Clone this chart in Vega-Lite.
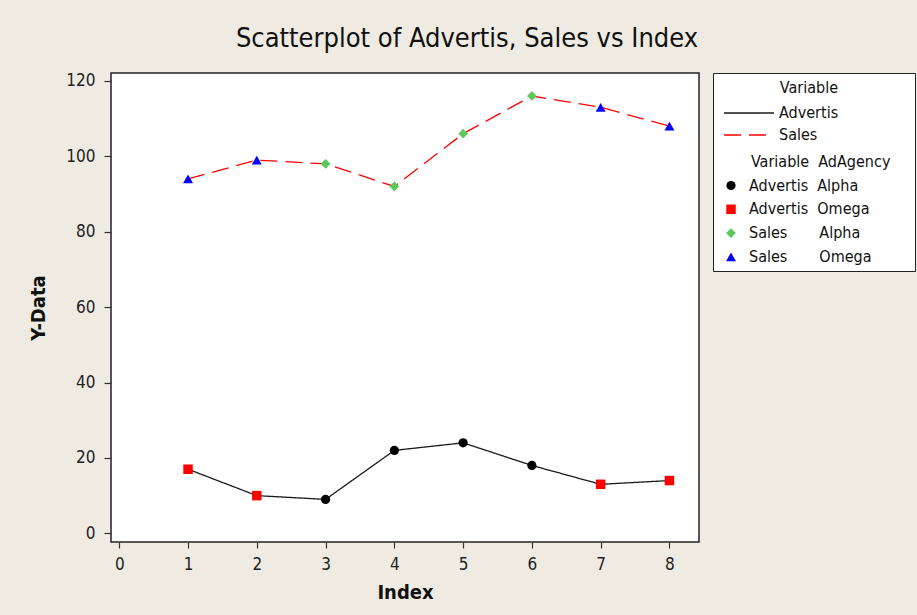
{
  "$schema": "https://vega.github.io/schema/vega-lite/v6.json",
  "width": 588,
  "height": 469,
  "autosize": "none",
  "padding": {"left": 111, "top": 73, "right": 218, "bottom": 73},
  "background": "#EFEBE2",
  "title": {
    "text": "Scatterplot of Advertis, Sales vs Index",
    "font": "DejaVu Sans Condensed, DejaVu Sans",
    "fontSize": 27,
    "fontWeight": "normal",
    "color": "#111111",
    "anchor": "middle",
    "dx": 62,
    "offset": 19
  },
  "config": {
    "view": {"fill": "white", "stroke": "#222222", "strokeWidth": 1.5},
    "axis": {
      "grid": false,
      "domain": false,
      "tickColor": "#333333",
      "tickWidth": 1.2,
      "labelColor": "#222222",
      "labelFont": "DejaVu Sans Condensed, DejaVu Sans",
      "labelFontSize": 17,
      "titleFont": "DejaVu Sans Condensed, DejaVu Sans",
      "titleFontSize": 20,
      "titleFontWeight": "bold",
      "titleColor": "#111111"
    },
    "legend": {
      "labelFont": "DejaVu Sans Condensed, DejaVu Sans",
      "labelFontSize": 16,
      "labelColor": "#111111",
      "titleFont": "DejaVu Sans Condensed, DejaVu Sans",
      "titleFontSize": 16,
      "titleFontWeight": "normal",
      "titleColor": "#111111",
      "titleLimit": 0,
      "labelLimit": 0
    }
  },
  "data": {
    "values": [
      {"Index": 1, "Variable": "Advertis", "AdAgency": "Omega", "Value": 17},
      {"Index": 2, "Variable": "Advertis", "AdAgency": "Omega", "Value": 10},
      {"Index": 3, "Variable": "Advertis", "AdAgency": "Alpha", "Value": 9},
      {"Index": 4, "Variable": "Advertis", "AdAgency": "Alpha", "Value": 22},
      {"Index": 5, "Variable": "Advertis", "AdAgency": "Alpha", "Value": 24},
      {"Index": 6, "Variable": "Advertis", "AdAgency": "Alpha", "Value": 18},
      {"Index": 7, "Variable": "Advertis", "AdAgency": "Omega", "Value": 13},
      {"Index": 8, "Variable": "Advertis", "AdAgency": "Omega", "Value": 14},
      {"Index": 1, "Variable": "Sales", "AdAgency": "Omega", "Value": 94},
      {"Index": 2, "Variable": "Sales", "AdAgency": "Omega", "Value": 99},
      {"Index": 3, "Variable": "Sales", "AdAgency": "Alpha", "Value": 98},
      {"Index": 4, "Variable": "Sales", "AdAgency": "Alpha", "Value": 92},
      {"Index": 5, "Variable": "Sales", "AdAgency": "Alpha", "Value": 106},
      {"Index": 6, "Variable": "Sales", "AdAgency": "Alpha", "Value": 116},
      {"Index": 7, "Variable": "Sales", "AdAgency": "Omega", "Value": 113},
      {"Index": 8, "Variable": "Sales", "AdAgency": "Omega", "Value": 108}
    ]
  },
  "transform": [
    {"calculate": "datum.Variable + ' ' + datum.AdAgency", "as": "Group"}
  ],
  "encoding": {
    "x": {
      "field": "Index",
      "type": "quantitative",
      "scale": {"domain": [-0.12, 8.43], "nice": false, "zero": false},
      "axis": {
        "values": [0, 1, 2, 3, 4, 5, 6, 7, 8],
        "title": "Index",
        "tickSize": 6,
        "labelPadding": 8,
        "titlePadding": 10
      }
    },
    "y": {
      "field": "Value",
      "type": "quantitative",
      "scale": {"domain": [-2.3, 122.1], "nice": false, "zero": false},
      "axis": {
        "values": [0, 20, 40, 60, 80, 100, 120],
        "title": "Y-Data",
        "tickSize": 7,
        "labelPadding": 9,
        "titlePadding": 17
      }
    }
  },
  "layer": [
    {
      "mark": {"type": "line", "strokeWidth": 1.3},
      "encoding": {
        "stroke": {
          "field": "Variable",
          "type": "nominal",
          "scale": {"domain": ["Advertis", "Sales"], "range": ["#1a1a1a", "#FF0000"]},
          "legend": {
            "title": "Variable",
            "orient": "none",
            "legendX": 610,
            "legendY": 7,
            "symbolType": "M-5,0H5",
            "symbolSize": 100,
            "symbolStrokeWidth": 1.3,
            "symbolFillColor": "transparent",
            "symbolOffset": 20,
            "labelOffset": 22,
            "titleAnchor": "end",
            "titleBaseline": "top",
            "titlePadding": 9,
            "padding": 0,
            "rowPadding": 6,
            "zindex": 1
          }
        },
        "strokeDash": {
          "field": "Variable",
          "type": "nominal",
          "scale": {"domain": ["Advertis", "Sales"], "range": [[1, 0], [17, 8]]}
        },
        "order": {"field": "Index"}
      }
    },
    {
      "mark": {"type": "point", "filled": true, "opacity": 1},
      "encoding": {
        "shape": {
          "field": "Group",
          "type": "nominal",
          "scale": {
            "domain": ["Advertis Alpha", "Advertis Omega", "Sales Alpha", "Sales Omega"],
            "range": ["circle", "square", "diamond", "triangle-up"]
          },
          "legend": {
            "title": ["\u200b", "\u200b", "\u200b", "\u200b\u00a0\u00a0\u00a0\u00a0\u00a0\u00a0\u00a0Variable\u00a0\u00a0AdAgency\u00a0\u00a0\u00a0\u00a0\u200b"],
            "titleLineHeight": 25,
            "titleBaseline": "top",
            "orient": "none",
            "legendX": 602,
            "legendY": 0,
            "padding": 6,
            "strokeColor": "#222222",
            "fillColor": "white",
            "symbolOffset": 4,
            "labelOffset": 10,
            "rowPadding": 7.8,
            "titlePadding": 7.5,
            "zindex": 0,
            "labelExpr": "indexof(datum.label, 'Sales') == 0 ? replace(datum.label, ' ', '\u00a0\u00a0\u00a0\u00a0\u00a0\u00a0\u00a0') : replace(datum.label, ' ', '\u00a0\u00a0')"
          }
        },
        "fill": {
          "field": "Group",
          "type": "nominal",
          "scale": {
            "domain": ["Advertis Alpha", "Advertis Omega", "Sales Alpha", "Sales Omega"],
            "range": ["#000000", "#FF0000", "#5DC85D", "#0000FF"]
          }
        },
        "size": {
          "field": "Group",
          "type": "nominal",
          "scale": {
            "domain": ["Advertis Alpha", "Advertis Omega", "Sales Alpha", "Sales Omega"],
            "range": [85, 100, 150, 130]
          }
        }
      }
    }
  ]
}
